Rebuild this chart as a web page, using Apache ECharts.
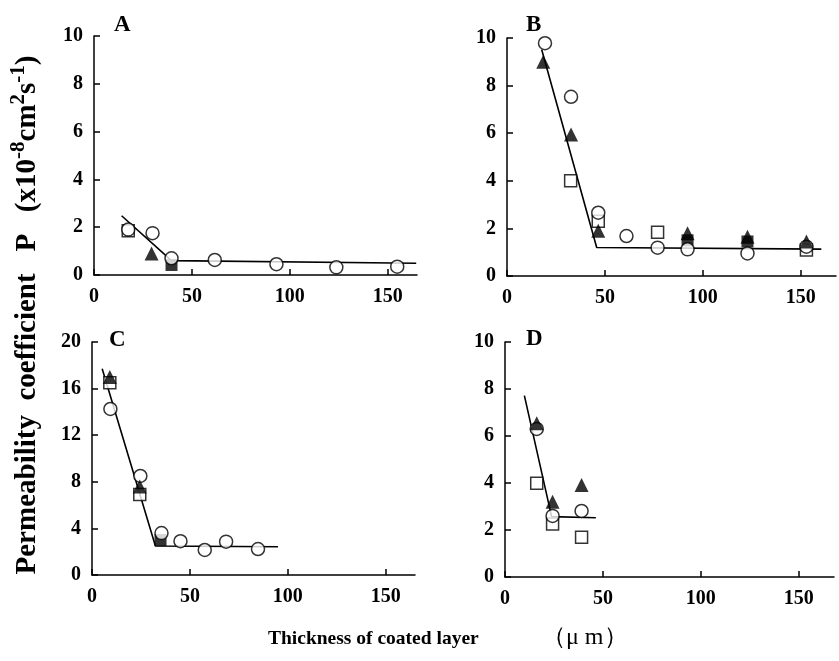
<!DOCTYPE html>
<html>
<head>
<meta charset="utf-8">
<script src="https://cdn.jsdelivr.net/npm/echarts@6/dist/echarts.min.js"></script>
<style>
  html, body { margin: 0; padding: 0; background: #fff; }
  #chart { width: 839px; height: 661px; }
</style>
</head>
<body>
<div id="chart"></div>
<script>
// thickness (um), P (x10^-8 cm2 s-1)
const aCircle = [[17.5, 1.9], [29.9, 1.75], [39.6, 0.7], [61.7, 0.63], [93.2, 0.45], [123.8, 0.32], [154.9, 0.35]]
const aTriangle = [[29.4, 0.9]]
const aSquare = [[17.5, 1.85]]
const aSquareFill = [[39.6, 0.42]]
const aFit = [[14.1, 2.48], [39.6, 0.6], [164.6, 0.49]]

const bCircle = [[19.4, 9.78], [32.7, 7.53], [46.6, 2.66], [61, 1.68], [76.9, 1.19], [92.2, 1.12], [122.8, 0.95], [152.9, 1.23]]
const bTriangle = [[18.5, 9.0], [32.7, 5.95], [46.6, 1.9], [92.2, 1.8], [122.8, 1.65], [152.9, 1.45]]
const bSquare = [[32.5, 4.0], [46.6, 2.3], [76.9, 1.84], [152.9, 1.09]]
const bSquareFill = [[92.2, 1.5], [122.8, 1.45]]
const bFit = [[17.7, 9.52], [45.8, 1.2], [160.5, 1.13]]

const cCircle = [[9.4, 14.25], [24.7, 8.5], [35.5, 3.6], [45.2, 2.9], [57.6, 2.15], [68.5, 2.86], [84.8, 2.23]]
const cTriangle = [[9.1, 17.0], [24.4, 7.6]]
const cSquare = [[9.1, 16.5], [24.4, 6.9]]
const cSquareFill = [[35, 3.0]]
const cFit = [[5.2, 17.7], [32.4, 2.49], [95, 2.43]]

const dCircle = [[16.2, 6.3], [24.3, 2.6], [39.1, 2.81]]
const dTriangle = [[16.2, 6.54], [24.3, 3.2], [39.1, 3.91]]
const dSquare = [[16.2, 3.99], [24.3, 2.26], [39.1, 1.69]]
const dFit = [[9.9, 7.72], [23.8, 2.57], [46.4, 2.52]]

const xTicks = [0, 50, 100, 150]

const chart = echarts.init(document.getElementById('chart'))

const serif = 'Liberation Serif'
const labelStyle = { color: '#000', fontFamily: serif, fontWeight: 'bold', fontSize: 20 }
const lineStyle = { color: '#000', width: 1.5 }

const grids = [
  { left: 94, top: 36, width: 323, height: 239 },
  { left: 507, top: 38, width: 329, height: 238 },
  { left: 92, top: 342, width: 323, height: 233 },
  { left: 505, top: 342, width: 329, height: 235 },
]
const xMax = [165, 168, 165, 168]
const yMax = [10, 10, 20, 10]
const yStep = [2, 2, 4, 2]

function xAxis(i) {
  return {
    gridIndex: i,
    type: 'value',
    min: 0,
    max: xMax[i],
    axisLine: { lineStyle },
    axisTick: { inside: true, length: 6, lineStyle, customValues: xTicks },
    axisLabel: { ...labelStyle, margin: 12, customValues: xTicks },
    splitLine: { show: false },
  }
}
function yAxis(i) {
  return {
    gridIndex: i,
    type: 'value',
    min: 0,
    max: yMax[i],
    interval: yStep[i],
    axisLine: { show: true, lineStyle },
    axisTick: { show: true, inside: true, length: 6, lineStyle },
    axisLabel: { ...labelStyle, margin: 11 },
    splitLine: { show: false },
  }
}

function fitLine(i, data) {
  return { type: 'line', xAxisIndex: i, yAxisIndex: i, data, symbol: 'none', lineStyle: { color: '#000', width: 1.6 }, z: 1, silent: true }
}
function marks(i, data, kind) {
  const open = { color: '#fff', borderColor: '#000', borderWidth: 1.5 }
  const fill = { color: '#000' }
  const conf = {
    circle: ['circle', 13, open],
    triangle: ['triangle', 14, fill],
    square: ['rect', 12, open],
    squareFill: ['rect', 12, fill],
  }[kind]
  return { type: 'scatter', xAxisIndex: i, yAxisIndex: i, data, symbol: conf[0], symbolSize: conf[1], itemStyle: conf[2], z: 3 }
}

const panels = [
  [aCircle, aTriangle, aSquare, aSquareFill, aFit],
  [bCircle, bTriangle, bSquare, bSquareFill, bFit],
  [cCircle, cTriangle, cSquare, cSquareFill, cFit],
  [dCircle, dTriangle, dSquare, [], dFit],
]
const series = []
panels.forEach((p, i) => {
  series.push(fitLine(i, p[4]))
  series.push(marks(i, p[2], 'square'))
  series.push(marks(i, p[3], 'squareFill'))
  series.push(marks(i, p[0], 'circle'))
  series.push(marks(i, p[1], 'triangle'))
})

const letters = [['A', 114, 14], ['B', 526, 14], ['C', 109, 329], ['D', 526, 328]]

const option = {
  animation: false,
  grid: grids,
  xAxis: [0, 1, 2, 3].map(xAxis),
  yAxis: [0, 1, 2, 3].map(yAxis),
  series,
  graphic: [
    ...letters.map(l => ({
      type: 'text', left: l[1], top: l[2], z: 10,
      style: { text: l[0], fontFamily: serif, fontWeight: 'bold', fontSize: 23, fill: '#000' },
    })),
    {
      type: 'text', x: 25, y: 315, rotation: Math.PI / 2,
      style: {
        text: '{t|Permeability  coefficient   P   (x10}{s|-8}{t|cm}{s|2}{t|s}{s|-1}{t|)}',
        align: 'center', verticalAlign: 'middle',
        rich: {
          t: { fontFamily: serif, fontWeight: 'bold', fontSize: 29, lineHeight: 34, fill: '#000', verticalAlign: 'bottom' },
          s: { fontFamily: serif, fontWeight: 'bold', fontSize: 21, lineHeight: 21, fill: '#000', verticalAlign: 'top' },
        },
      },
    },
    {
      type: 'text', left: 268, top: 629,
      style: { text: 'Thickness of coated layer', fontFamily: serif, fontWeight: 'bold', fontSize: 19.5, fill: '#000' },
    },
    {
      type: 'text', left: 542, top: 626,
      style: { text: '\uff08\u03bc m\uff09', fontFamily: serif, fontSize: 24, fill: '#000' },
    },
  ],
}

chart.setOption(option)
</script>
</body>
</html>
